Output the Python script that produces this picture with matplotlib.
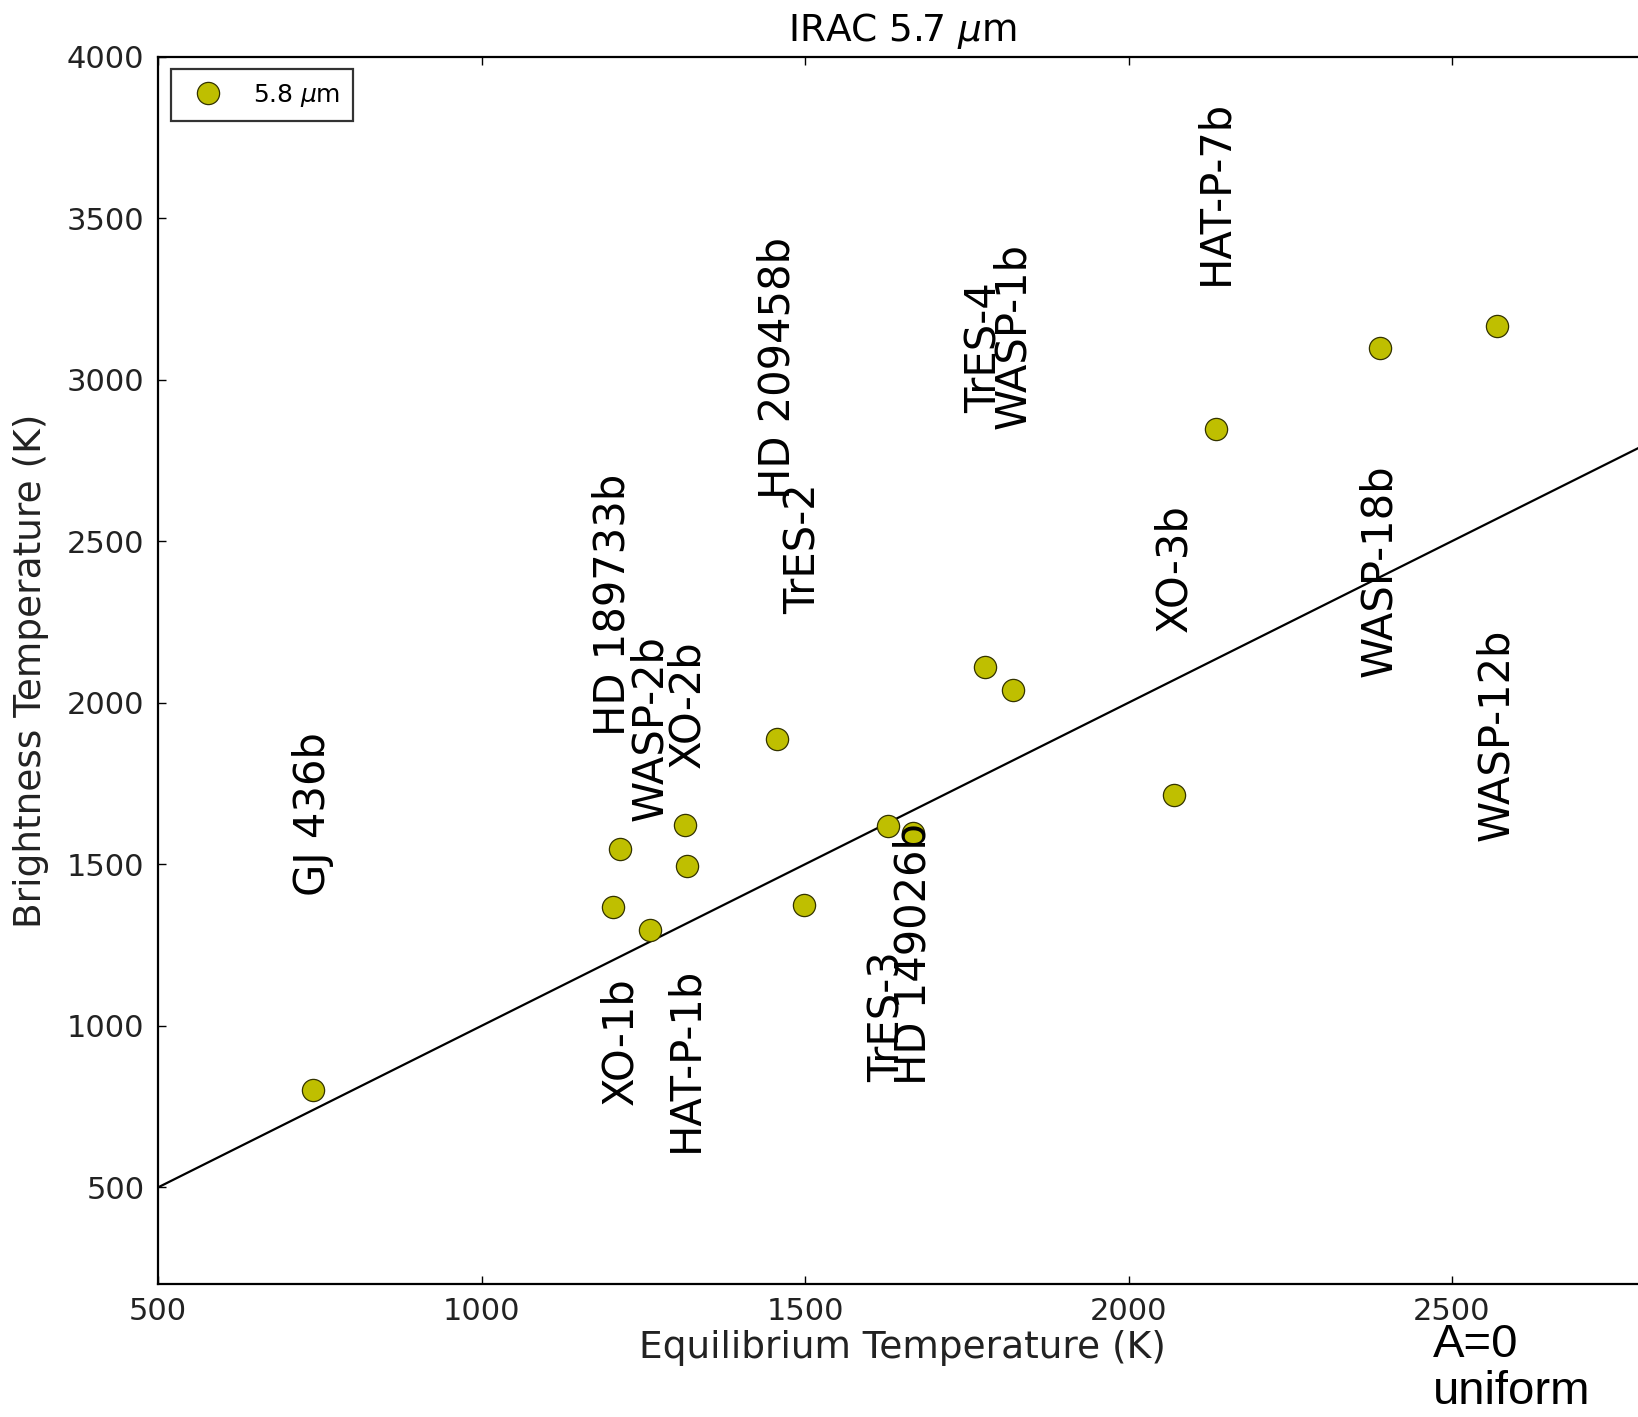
import matplotlib
matplotlib.use("Agg")
import matplotlib.pyplot as plt

# planet names, equilibrium temperature, brightness temperature (5.8 um)
planets = ["GJ 436b", "HD 189733b", "XO-1b", "WASP-2b", "HAT-P-1b", "XO-2b",
           "HD 209458b", "TrES-2", "TrES-3", "HD 149026b", "TrES-4", "WASP-1b",
           "XO-3b", "HAT-P-7b", "WASP-18b", "WASP-12b"]
t_eq = [740, 1203, 1214, 1261, 1315, 1318,
        1457, 1498, 1628, 1667, 1778, 1822,
        2070, 2135, 2388, 2569]
t_bright = [800, 1369, 1546, 1297, 1622, 1493,
            1889, 1373, 1618, 1598, 2110, 2040,
            1713, 2848, 3097, 3167]
# vertical position (data units) where each name is written
label_y = [1656, 2303, 951, 1920, 895, 1996,
           3036, 2476, 1030, 1221, 3099, 3136,
           2418, 3580, 2410, 1902]

# one-to-one line
line_x = [500, 2800]
line_y = [500, 2800]

fig = plt.figure(figsize=(16.38, 14.17), dpi=100)
ax = fig.add_axes([0.0966, 0.0937, 0.9083, 0.8664])

ax.plot(line_x, line_y, color="black", linewidth=1.6)
ax.plot(t_eq, t_bright, "o", color=(0.75, 0.75, 0), markersize=16,
        markeredgecolor="#333300", markeredgewidth=0.9, label=r"5.8 $\mu$m")

for name, x, y in zip(planets, t_eq, label_y):
    ax.text(x, y, name, rotation=90, ha="center", va="center", fontsize=30)

ax.set_xlim(500, 2800)
ax.set_ylim(200, 4000)
ax.set_xticks([500, 1000, 1500, 2000, 2500])
ax.set_yticks([500, 1000, 1500, 2000, 2500, 3000, 3500, 4000])
ax.tick_params(direction="in", top=True, right=True, length=6, width=1,
               labelsize=22, labelcolor="#222222")
ax.tick_params(axis="y", pad=10)
ax.tick_params(axis="x", pad=9)
for sp in ax.spines.values():
    sp.set_linewidth(1.6)

ax.set_xlabel("Equilibrium Temperature (K)", fontsize=27, color="#222222", labelpad=3)
ax.set_ylabel("Brightness Temperature (K)", fontsize=27, color="#222222", labelpad=13)
ax.set_title(r"IRAC 5.7 $\mu$m", fontsize=27, pad=11)

leg = ax.legend(loc="upper left", numpoints=1, fontsize=18, fancybox=False,
                borderaxespad=0.5, handletextpad=0.8, borderpad=0.5)
leg.get_frame().set_edgecolor("black")
leg.get_frame().set_linewidth(1.6)

fig.text(0.875, 0.002, "A=0\nuniform", fontsize=34, family="Liberation Sans",
         ha="left", va="bottom", linespacing=1.1)

fig.savefig("out.png", dpi=100)
